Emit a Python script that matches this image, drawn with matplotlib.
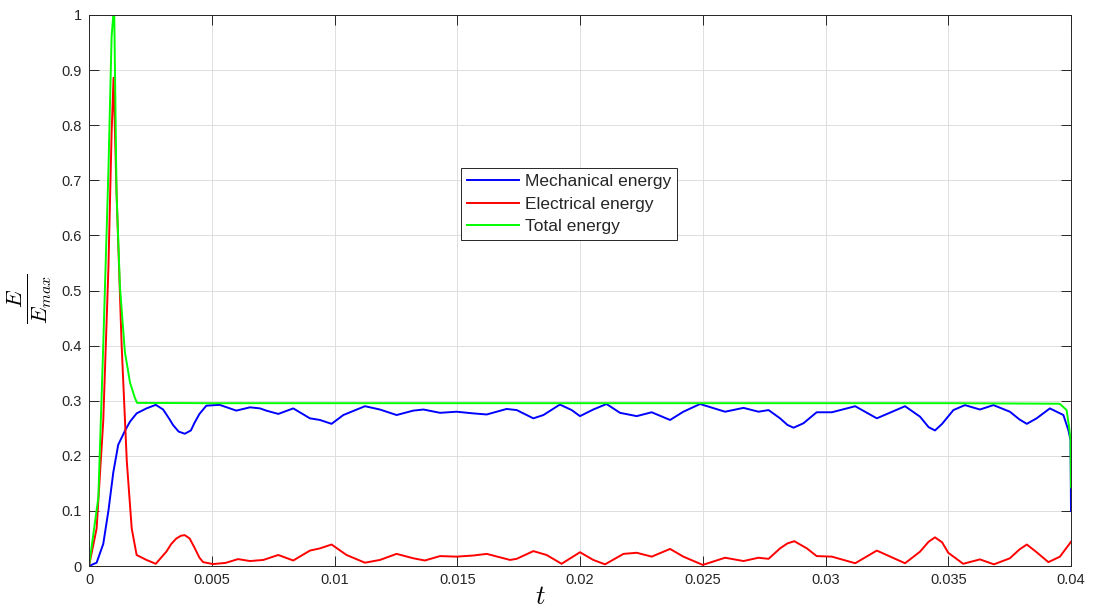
import matplotlib
matplotlib.use('Agg')
import matplotlib.pyplot as plt

# Values
t_mech = [0.0, 0.00031, 0.00058, 0.00079, 0.00099, 0.00119, 0.00146, 0.00167, 0.00194,
          0.00234, 0.00272, 0.00302, 0.00330, 0.00342, 0.00365, 0.00390, 0.00415, 0.00430,
          0.00450, 0.00478, 0.00532,
          0.00600, 0.00656, 0.00697, 0.00722, 0.00771, 0.00832, 0.00900, 0.00941,
          0.00988, 0.01036, 0.01124, 0.01185, 0.01253, 0.01321, 0.01362, 0.01430,
          0.01497, 0.01565, 0.01620, 0.01701, 0.01742, 0.01810, 0.01851, 0.01918,
          0.01966, 0.02000, 0.02054, 0.02108, 0.02163, 0.02231, 0.02292, 0.02367,
          0.02421, 0.02489, 0.02591, 0.02666, 0.02727, 0.02768, 0.02815, 0.02845, 0.02870,
          0.02910, 0.02964, 0.03026, 0.03121, 0.03209, 0.03324, 0.03385, 0.03420, 0.03446,
          0.03475, 0.03521, 0.03568, 0.03629, 0.03684, 0.03751, 0.03790, 0.03820, 0.03860,
          0.03914, 0.03969, 0.03989, 0.03998, 0.04]
e_mech = [0.0, 0.006, 0.04, 0.10, 0.17, 0.22, 0.245, 0.262, 0.277,
          0.286, 0.2925, 0.284, 0.265, 0.256, 0.244, 0.240, 0.246, 0.260,
          0.276, 0.291, 0.2925,
          0.282, 0.288, 0.286, 0.282, 0.276, 0.286, 0.268, 0.265,
          0.258, 0.274, 0.290, 0.284, 0.274, 0.282, 0.284, 0.278,
          0.280, 0.277, 0.275, 0.285, 0.283, 0.268, 0.274, 0.293,
          0.283, 0.272, 0.284, 0.294, 0.278, 0.272, 0.279, 0.265,
          0.280, 0.294, 0.280, 0.287, 0.280, 0.283, 0.268, 0.256, 0.251,
          0.259, 0.279, 0.279, 0.290, 0.268, 0.290, 0.271, 0.252, 0.246,
          0.258, 0.283, 0.292, 0.284, 0.292, 0.280, 0.266, 0.258, 0.268,
          0.286, 0.274, 0.247, 0.229, 0.100]

t_elec = [0.0, 0.00031, 0.00058, 0.00079, 0.00092, 0.00100, 0.00112, 0.00133, 0.00154,
          0.00174, 0.00194, 0.00234, 0.00272, 0.00315, 0.00335, 0.00356, 0.00375, 0.00390,
          0.00410, 0.00430, 0.00450,
          0.00465, 0.00505, 0.00556, 0.00607, 0.00656, 0.00710, 0.00771, 0.00832,
          0.00900, 0.00941, 0.00988, 0.01049, 0.01124, 0.01185, 0.01253, 0.01321,
          0.01368, 0.01430, 0.01497, 0.01565, 0.01620, 0.01715, 0.01742, 0.01810,
          0.01864, 0.01925, 0.02000, 0.02054, 0.02102, 0.02177, 0.02231, 0.02292,
          0.02367, 0.02421, 0.02500, 0.02591, 0.02666, 0.02727, 0.02768, 0.02815,
          0.02845, 0.02873, 0.02924, 0.02964, 0.03026, 0.03121, 0.03209, 0.03324, 0.03385,
          0.03420, 0.03446, 0.03475, 0.03500, 0.03561, 0.03629, 0.03686, 0.03751, 0.03790,
          0.03820, 0.03860, 0.03908, 0.03955, 0.04]
e_elec = [0.0, 0.068, 0.263, 0.54, 0.785, 0.886, 0.68, 0.40, 0.19,
          0.068, 0.020, 0.011, 0.004, 0.026, 0.040, 0.050, 0.055, 0.056,
          0.050, 0.033, 0.015,
          0.007, 0.0035, 0.0056, 0.0125, 0.009, 0.011, 0.020, 0.010,
          0.028, 0.032, 0.039, 0.020, 0.006, 0.011, 0.022, 0.014,
          0.010, 0.018, 0.017, 0.019, 0.022, 0.011, 0.013, 0.027,
          0.020, 0.004, 0.025, 0.011, 0.003, 0.022, 0.024, 0.017,
          0.031, 0.017, 0.002, 0.015, 0.009, 0.015, 0.013, 0.032,
          0.041, 0.045, 0.032, 0.018, 0.017, 0.005, 0.028, 0.005, 0.026,
          0.044, 0.052, 0.043, 0.024, 0.004, 0.012, 0.003, 0.014, 0.030,
          0.039, 0.025, 0.007, 0.017, 0.044]

t_total = [0.0, 0.00038, 0.00058, 0.00079, 0.00092, 0.00099, 0.00103, 0.00112, 0.00126,
           0.00146, 0.00167, 0.00187, 0.00196, 0.005, 0.01, 0.015, 0.02, 0.025,
           0.03, 0.035, 0.0395, 0.03955, 0.03982, 0.03992, 0.03998, 0.04]
e_total = [0.0, 0.124, 0.40, 0.716, 0.96, 1.0, 1.0, 0.68, 0.507,
           0.389, 0.333, 0.305, 0.296, 0.2955, 0.2955, 0.2955, 0.2955, 0.2955,
           0.2955, 0.2955, 0.2945, 0.294, 0.283, 0.253, 0.23, 0.143]

plt.rcParams['font.family'] = ['Liberation Sans', 'DejaVu Sans']
plt.rcParams['mathtext.fontset'] = 'cm'

fig = plt.figure(figsize=(10.93, 6.10), dpi=100)
ax = fig.add_axes([89 / 1093, 44 / 610, 982 / 1093, 551 / 610])

style = dict(lw=1.4, solid_joinstyle='round')
ax.plot(t_mech, e_mech, color=(0, 0, 1), label='Mechanical energy', **style)
ax.plot(t_elec, e_elec, color=(1, 0, 0), label='Electrical energy', **style)
ax.plot(t_total, e_total, color=(0, 1, 0), label='Total energy', **style)

ax.set_xlim(0, 0.04)
ax.set_ylim(0, 1)
ax.set_xticks([0, 0.005, 0.01, 0.015, 0.02, 0.025, 0.03, 0.035, 0.04])
ax.set_xticklabels(['0', '0.005', '0.01', '0.015', '0.02', '0.025', '0.03', '0.035', '0.04'])
ax.set_yticks([i / 10 for i in range(11)])
ax.set_yticklabels(['0', '0.1', '0.2', '0.3', '0.4', '0.5', '0.6', '0.7', '0.8', '0.9', '1'])

ax.grid(True, color='#dedede', lw=0.7)
ax.set_axisbelow(True)
ax.tick_params(direction='in', length=7, width=0.7, top=True, right=True,
               labelsize=10.5, colors='#262626', pad=5)
for s in ax.spines.values():
    s.set_color('#262626')
    s.set_linewidth(0.7)

ax.set_xlabel('$t$', fontsize=19)
ax.xaxis.set_label_coords(0.460, -0.056)
ax.xaxis.label.set_va('center')
ax.set_ylabel(r'$\frac{E}{E_{max}}$', fontsize=23)
ax.yaxis.set_label_coords(-0.060, 0.485)
ax.yaxis.label.set_va('center')

leg = ax.legend(loc='upper left', bbox_to_anchor=(0.379, 0.722), borderaxespad=0,
                fontsize=12.5, handlelength=3.0, handletextpad=0.3, labelspacing=0.42,
                borderpad=0.35, fancybox=False, framealpha=1, edgecolor='#262626')
leg.get_frame().set_linewidth(0.7)
for txt in leg.get_texts():
    txt.set_color('#262626')

fig.savefig('out.png', dpi=100)
